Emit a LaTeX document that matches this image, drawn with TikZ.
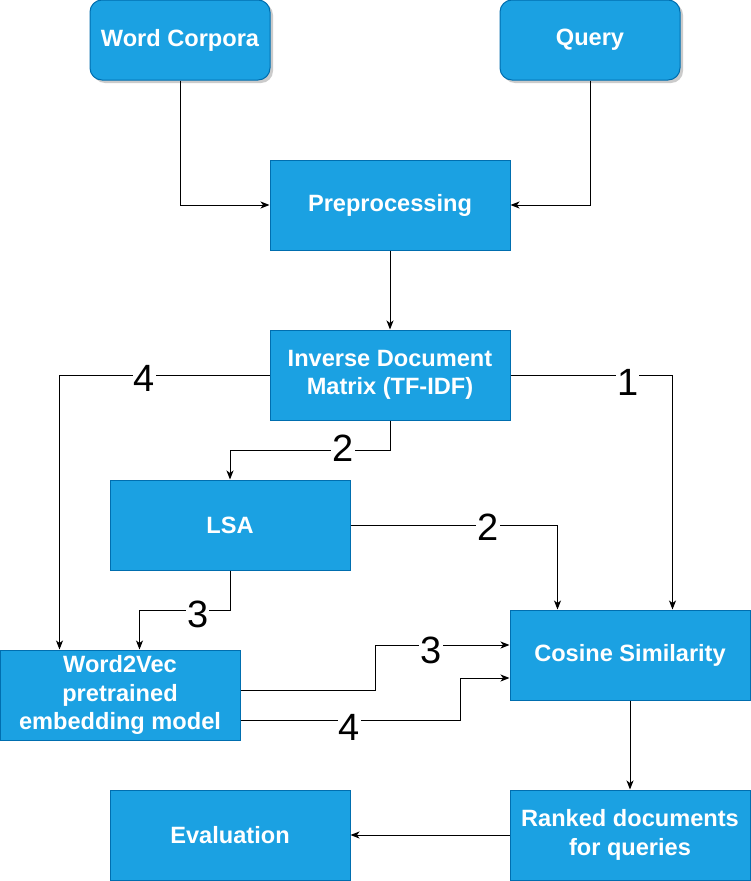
\documentclass[tikz,border=0pt]{standalone}
\usepackage{fontspec}
\setmainfont{Liberation Sans}
\usetikzlibrary{arrows.meta,shadows}
\definecolor{boxblue}{HTML}{1BA1E2}
\definecolor{boxline}{HTML}{006EAF}
\begin{document}
\begin{tikzpicture}[x=1pt,y=-1pt,
  box/.style={rectangle,draw=boxline,line width=1pt,fill=boxblue,text=white,
    minimum width=240pt,minimum height=90pt,inner sep=0pt,align=center,
    font=\fontsize{23.6}{28.3}\selectfont\bfseries},
  rbox/.style={box,minimum width=180pt,minimum height=80pt,rounded corners=12pt,
    drop shadow={shadow xshift=3pt,shadow yshift=-3pt,fill=black!25,opacity=0.8}},
  arr/.style={draw=black,line width=1pt,-{Stealth[length=9pt,width=7pt,inset=2.5pt]}},
  lbl/.style={fill=white,text=black,inner sep=1pt,font=\fontsize{38}{40}\selectfont}]
\useasboundingbox[fill=white] (0,0) rectangle (751,881);
\node[rbox] (wc) at (180,40) {Word Corpora};
\node[rbox] (q) at (590,40) {Query};
\node[box] (pre) at (390,205) {Preprocessing};
\node[box] (idm) at (390,375) {Inverse Document\\Matrix (TF-IDF)};
\node[box] (lsa) at (230,525) {LSA};
\node[box] (w2v) at (120,695) {Word2Vec\\pretrained\\embedding model};
\node[box] (cos) at (630,655) {Cosine Similarity};
\node[box] (rk) at (630,835) {Ranked documents\\for queries};
\node[box] (ev) at (230,835) {Evaluation};

\draw[arr] (wc.south) |- (pre.west);
\draw[arr] (q.south) |- (pre.east);
\draw[arr] (pre) -- (idm);
\draw[arr] (idm.west) -| node[lbl,pos=0.298,yshift=-3pt]{4} ([xshift=60pt]w2v.north west);
\draw[arr] (idm.east) -| node[lbl,pos=0.362,yshift=-7pt]{1} ([xshift=163pt]cos.north west);
\draw[arr] (idm.south) -- ++(0,30) -| node[lbl,pos=0.147,yshift=2pt]{2} (lsa.north);
\draw[arr] (lsa.east) -| node[lbl,pos=0.332,yshift=-2pt]{2} ([xshift=48pt]cos.north west);
\draw[arr] (lsa.south) -- ++(0,40) -| node[lbl,pos=0.178,yshift=-4pt]{3} ([xshift=140pt]w2v.north west);
\draw[arr] ([yshift=5pt]w2v.east) -- ++(135,0) |- node[lbl,pos=0.707,yshift=-5pt]{3} ([yshift=10pt]cos.west);
\draw[arr] ([yshift=-25pt]w2v.east) -- node[lbl,pos=0.495,yshift=-7pt]{4} ++(220,0) |- ([yshift=-23pt]cos.west);
\draw[arr] (cos) -- (rk);
\draw[arr] (rk) -- (ev);
\end{tikzpicture}
\end{document}
